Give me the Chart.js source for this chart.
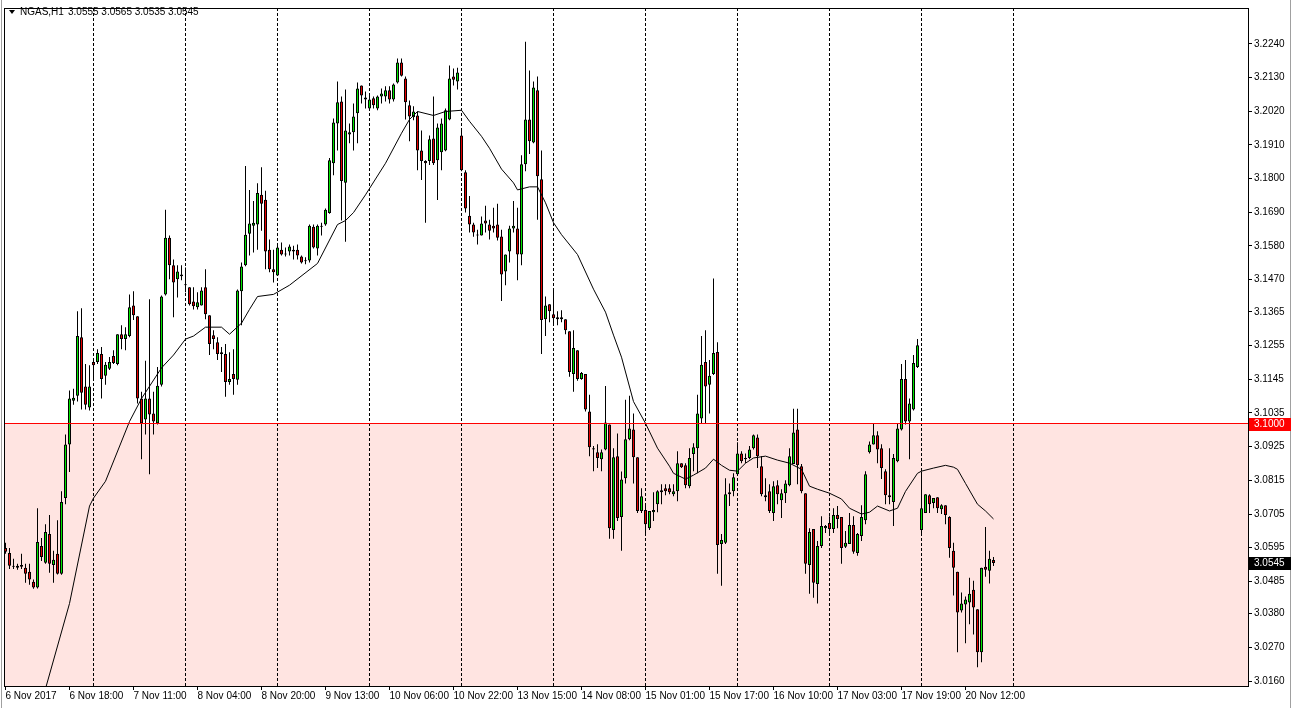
<!DOCTYPE html>
<html lang="en">
<head>
<meta charset="UTF-8">
<title>NGAS,H1</title>
<script src="https://cdn.jsdelivr.net/npm/chart.js"></script>
<style>
    html, body { margin: 0; padding: 0; background: #fff; }
    #wrap { width: 1292px; height: 708px; }
</style>
</head>
<body>
<div id="wrap"><canvas id="chart" width="1292" height="708"></canvas></div>

<script>
    // hourly NGAS bars, 6 Nov 2017 02:00 .. 20 Nov 2017
    const opens = [
        3.0594,3.0578,3.0533,3.0530,3.0539,3.0530,3.0517,3.0484,3.0465,3.0601,
        3.0546,3.0640,3.0539,3.0575,3.0510,3.0757,3.0932,3.1075,3.1091,3.1282,
        3.1121,3.1053,3.1201,3.1201,3.1227,3.1156,3.1179,3.1221,3.1195,3.1292,
        3.1276,3.1286,3.1386,3.1351,3.1082,3.1014,3.1082,3.1033,3.1001,3.1127,
        3.1422,3.1607,3.1517,3.1471,3.1487,3.1455,3.1445,3.1399,3.1380,3.1386,
        3.1445,3.1354,3.1289,3.1266,3.1233,3.1227,3.1136,3.1162,3.1143,3.1432,
        3.1517,3.1620,3.1646,3.1650,3.1747,3.1731,3.1568,3.1504,3.1484,3.1568,
        3.1555,3.1562,3.1568,3.1568,3.1546,3.1530,3.1533,3.1643,3.1572,3.1646,
        3.1650,3.1688,3.1850,3.1980,3.2052,3.1786,3.1944,3.1951,3.2013,3.2104,
        3.2065,3.2029,3.2062,3.2029,3.2068,3.2068,3.2088,3.2058,3.2114,3.2179,
        3.2127,3.2039,3.2000,3.2006,3.1892,3.1857,3.1857,3.1931,3.1860,3.1886,
        3.1892,3.1993,3.2133,3.2117,3.1941,3.1821,3.1679,3.1650,3.1617,3.1614,
        3.1663,3.1650,3.1646,3.1650,3.1611,3.1497,3.1562,3.1637,3.1637,3.1552,
        3.1847,3.1993,3.1918,3.2088,3.1798,3.1341,3.1390,3.1357,3.1341,3.1341,
        3.1341,3.1302,3.1162,3.1240,3.1146,3.1162,3.1040,3.0920,3.0907,3.0884,
        3.0916,3.0997,3.0653,3.0894,3.0695,3.0822,3.0949,3.0981,3.0890,3.0715,
        3.0718,3.0659,3.0711,3.0737,3.0776,3.0789,3.0789,3.0770,3.0779,3.0871,
        3.0864,3.0796,3.0901,3.0920,3.1017,3.1201,3.1127,3.1162,3.1234,3.0607,
        3.0611,3.0770,3.0779,3.0835,3.0903,3.0888,3.0888,3.0920,3.0955,3.0861,
        3.0766,3.0779,3.0708,3.0799,3.0750,3.0773,3.0799,3.0868,3.0981,3.0861,
        3.0773,3.0539,3.0656,3.0477,3.0601,3.0659,3.0676,3.0656,3.0702,3.0695,
        3.0598,3.0607,3.0669,3.0578,3.0633,3.0685,3.0907,3.0932,3.0962,3.0920,
        3.0845,3.0766,3.0744,3.0877,3.0981,3.1146,3.1007,3.1046,3.1185,3.0653,
        3.0708,3.0766,3.0741,3.0760,3.0721,3.0734,3.0695,3.0585,3.0517,3.0390,
        3.0410,3.0416,3.0458,3.0394,3.0254,3.0533,3.0520,3.0555
    ];
    const highs = [
        3.0611,3.0594,3.0559,3.0543,3.0575,3.0543,3.0543,3.0491,3.0724,3.0627,
        3.0672,3.0702,3.0585,3.0685,3.0779,3.0965,3.1108,3.1114,3.1367,3.1377,
        3.1195,3.1191,3.1208,3.1243,3.1250,3.1201,3.1218,3.1240,3.1292,3.1321,
        3.1315,3.1422,3.1432,3.1351,3.1104,3.1205,3.1406,3.1104,3.1185,3.1418,
        3.1698,3.1614,3.1536,3.1517,3.1517,3.1510,3.1445,3.1445,3.1429,3.1445,
        3.1504,3.1354,3.1305,3.1282,3.1250,3.1260,3.1233,3.1243,3.1438,3.1526,
        3.1841,3.1763,3.1727,3.1785,3.1837,3.1760,3.1601,3.1568,3.1581,3.1591,
        3.1575,3.1585,3.1581,3.1585,3.1549,3.1543,3.1650,3.1650,3.1650,3.1656,
        3.1702,3.1867,3.1996,3.2117,3.2068,3.2091,3.1980,3.2045,3.2114,3.2104,
        3.2084,3.2071,3.2068,3.2071,3.2094,3.2101,3.2101,3.2110,3.2192,3.2192,
        3.2133,3.2055,3.2036,3.2019,3.1957,3.1860,3.1941,3.2068,3.1980,3.1996,
        3.2029,3.2169,3.2159,3.2162,3.1960,3.1827,3.1743,3.1656,3.1633,3.1676,
        3.1711,3.1666,3.1705,3.1718,3.1633,3.1552,3.1646,3.1727,3.1705,3.1876,
        3.2247,3.2153,3.2117,3.2133,3.1892,3.1415,3.1390,3.1442,3.1367,3.1370,
        3.1341,3.1302,3.1305,3.1240,3.1169,3.1162,3.1094,3.0927,3.0933,3.0916,
        3.1123,3.0997,3.0920,3.0968,3.0844,3.1078,3.1091,3.1033,3.0890,3.0789,
        3.0737,3.0715,3.0776,3.0783,3.0802,3.0802,3.0802,3.0802,3.0910,3.0871,
        3.0871,3.0920,3.0936,3.1094,3.1286,3.1305,3.1208,3.1474,3.1266,3.0640,
        3.0822,3.0805,3.0838,3.0939,3.0910,3.0903,3.0927,3.0965,3.0965,3.0894,
        3.0822,3.0802,3.0812,3.0815,3.0786,3.0815,3.0920,3.1049,3.1049,3.0868,
        3.0773,3.0659,3.0656,3.0617,3.0698,3.0669,3.0698,3.0724,3.0731,3.0695,
        3.0650,3.0708,3.0698,3.0643,3.0734,3.0845,3.0942,3.1001,3.0975,3.0933,
        3.0851,3.0920,3.0901,3.1001,3.1195,3.1208,3.1082,3.1224,3.1276,3.0844,
        3.0770,3.0770,3.0757,3.0760,3.0737,3.0734,3.0698,3.0611,3.0517,3.0449,
        3.0436,3.0497,3.0487,3.0394,3.0530,3.0663,3.0585,3.0565
    ];
    const lows = [
        3.0575,3.0526,3.0526,3.0523,3.0526,3.0481,3.0474,3.0461,3.0462,3.0552,
        3.0543,3.0513,3.0481,3.0508,3.0507,3.0737,3.0842,3.1062,3.1072,3.1046,
        3.1046,3.1043,3.1143,3.1195,3.1082,3.1127,3.1175,3.1195,3.1191,3.1243,
        3.1240,3.1282,3.1338,3.1066,3.0884,3.0965,3.0835,3.0965,3.0997,3.1121,
        3.1418,3.1471,3.1347,3.1412,3.1468,3.1429,3.1386,3.1373,3.1373,3.1386,
        3.1341,3.1224,3.1243,3.1208,3.1169,3.1088,3.1127,3.1094,3.1127,3.1321,
        3.1514,3.1549,3.1559,3.1568,3.1630,3.1504,3.1494,3.1461,3.1484,3.1549,
        3.1546,3.1549,3.1536,3.1536,3.1523,3.1520,3.1526,3.1572,3.1549,3.1614,
        3.1646,3.1685,3.1811,3.1892,3.1663,3.1594,3.1915,3.1892,3.1915,3.2045,
        3.2029,3.2023,3.2029,3.2023,3.2045,3.2052,3.2045,3.2052,3.2110,3.2133,
        3.1993,3.1922,3.1990,3.1827,3.1795,3.1656,3.1844,3.1844,3.1730,3.1827,
        3.1889,3.1990,3.2104,3.2091,3.1824,3.1689,3.1624,3.1610,3.1585,3.1614,
        3.1624,3.1601,3.1624,3.1598,3.1400,3.1452,3.1526,3.1624,3.1468,3.1517,
        3.1824,3.1880,3.1915,3.1666,3.1227,3.1286,3.1331,3.1321,3.1321,3.1331,
        3.1292,3.1153,3.1104,3.1140,3.1143,3.1040,3.0894,3.0845,3.0855,3.0845,
        3.0913,3.0624,3.0624,3.0682,3.0585,3.0805,3.0946,3.0805,3.0708,3.0708,
        3.0640,3.0653,3.0682,3.0711,3.0737,3.0766,3.0770,3.0763,3.0747,3.0855,
        3.0789,3.0789,3.0845,3.0838,3.1001,3.1001,3.1033,3.1159,3.0510,3.0471,
        3.0607,3.0731,3.0763,3.0832,3.0871,3.0871,3.0884,3.0916,3.0855,3.0763,
        3.0747,3.0708,3.0682,3.0737,3.0692,3.0741,3.0796,3.0868,3.0802,3.0773,
        3.0510,3.0445,3.0432,3.0413,3.0594,3.0643,3.0640,3.0643,3.0659,3.0543,
        3.0594,3.0607,3.0575,3.0569,3.0617,3.0672,3.0903,3.0932,3.0871,3.0819,
        3.0737,3.0737,3.0666,3.0874,3.0978,3.0997,3.0884,3.1043,3.1182,3.0633,
        3.0708,3.0708,3.0724,3.0708,3.0705,3.0672,3.0562,3.0439,3.0254,3.0384,
        3.0283,3.0345,3.0312,3.0205,3.0221,3.0500,3.0478,3.0535
    ];
    const closes = [
        3.0582,3.0536,3.0536,3.0536,3.0533,3.0510,3.0491,3.0465,3.0614,3.0565,
        3.0646,3.0543,3.0556,3.0510,3.0744,3.0932,3.1082,3.1085,3.1286,3.1101,
        3.1062,3.1121,3.1191,3.1231,3.1146,3.1192,3.1201,3.1198,3.1292,3.1276,
        3.1292,3.1380,3.1354,3.1082,3.1001,3.1082,3.1030,3.1007,3.1124,3.1415,
        3.1607,3.1517,3.1461,3.1497,3.1481,3.1452,3.1390,3.1383,3.1396,3.1435,
        3.1357,3.1260,3.1276,3.1227,3.1227,3.1136,3.1146,3.1146,3.1435,3.1513,
        3.1617,3.1653,3.1656,3.1753,3.1718,3.1562,3.1504,3.1494,3.1575,3.1552,
        3.1552,3.1578,3.1562,3.1549,3.1526,3.1533,3.1646,3.1575,3.1646,3.1643,
        3.1698,3.1860,3.1983,3.2049,3.1792,3.1957,3.1951,3.2003,3.2094,3.2071,
        3.2058,3.2058,3.2039,3.2068,3.2078,3.2088,3.2058,3.2107,3.2179,3.2136,
        3.2049,3.2003,3.2019,3.1892,3.1857,3.1850,3.1928,3.1850,3.1967,3.1980,
        3.2023,3.2127,3.2123,3.2146,3.1827,3.1702,3.1650,3.1624,3.1614,3.1653,
        3.1653,3.1630,3.1637,3.1607,3.1487,3.1552,3.1637,3.1646,3.1552,3.1847,
        3.1993,3.1922,3.2097,3.1808,3.1338,3.1386,3.1367,3.1344,3.1347,3.1347,
        3.1305,3.1169,3.1247,3.1146,3.1165,3.1046,3.0923,3.0916,3.0888,3.0907,
        3.1004,3.0659,3.0890,3.0692,3.0818,3.0949,3.0984,3.0890,3.0715,3.0763,
        3.0672,3.0715,3.0718,3.0779,3.0783,3.0779,3.0776,3.0779,3.0871,3.0858,
        3.0799,3.0888,3.0923,3.1033,3.1192,3.1121,3.1156,3.1231,3.0604,3.0620,
        3.0770,3.0776,3.0825,3.0903,3.0877,3.0884,3.0916,3.0962,3.0894,3.0770,
        3.0760,3.0715,3.0796,3.0770,3.0773,3.0805,3.0894,3.0971,3.0864,3.0779,
        3.0543,3.0646,3.0481,3.0601,3.0666,3.0666,3.0656,3.0702,3.0689,3.0594,
        3.0611,3.0669,3.0582,3.0640,3.0695,3.0835,3.0932,3.0962,3.0916,3.0855,
        3.0766,3.0760,3.0888,3.0984,3.1146,3.1007,3.1066,3.1198,3.1256,3.0724,
        3.0770,3.0737,3.0757,3.0724,3.0734,3.0702,3.0594,3.0530,3.0384,3.0413,
        3.0426,3.0445,3.0400,3.0254,3.0530,3.0523,3.0559,3.0545
    ];

    // moving average line, read at these bar numbers
    const maBars = [10,16,21,22,25,31,34,39,42,45,47,50,54,56,59,61,63,67,71,78,
        83,85,87,90,95,99,101,103,107,110,114,116,119,121,124,127,128,131,133,135,
        137,139,143,147,150,152,154,157,160,163,166,167,170,172,175,177,179,181,183,185,
        187,190,193,196,199,201,203,206,209,211,214,216,218,221,223,225,228,229,232,235,
        237,238,240,243,245,247];
    const maValues = [3.0135,3.0413,3.0731,3.0757,3.0812,3.1007,3.1082,3.1182,3.1224,3.1276,
        3.1286,3.1315,3.1315,3.1292,3.1328,3.1373,3.1415,3.1422,3.1452,3.1523,
        3.1650,3.1663,3.1689,3.1747,3.1850,3.1948,3.1993,3.2019,3.2006,3.2019,
        3.2023,3.1987,3.1938,3.1899,3.1831,3.1786,3.1763,3.1773,3.1773,3.1721,
        3.1656,3.1617,3.1552,3.1439,3.1364,3.1289,3.1217,3.1072,3.1001,3.0920,
        3.0861,3.0838,3.0819,3.0832,3.0855,3.0884,3.0864,3.0848,3.0845,3.0871,
        3.0888,3.0894,3.0881,3.0871,3.0851,3.0796,3.0786,3.0773,3.0754,3.0724,
        3.0705,3.0711,3.0731,3.0715,3.0724,3.0779,3.0838,3.0845,3.0855,3.0864,
        3.0858,3.0851,3.0805,3.0737,3.0715,3.0689];

    const labelBars = [0,16,32,48,64,80,96,112,128,144,160,176,192,208,224,240];
    const timeLabels = ["6 Nov 2017","6 Nov 18:00","7 Nov 11:00","8 Nov 04:00","8 Nov 20:00",
        "9 Nov 13:00","10 Nov 06:00","10 Nov 22:00","13 Nov 15:00","14 Nov 08:00",
        "15 Nov 01:00","15 Nov 17:00","16 Nov 10:00","17 Nov 03:00","17 Nov 19:00","20 Nov 12:00"];
    const daySeparators = [22,45,68,91,114,137,160,183,206,229,252];

    const priceTicks = [3.2240,3.2130,3.2020,3.1910,3.1800,3.1690,3.1580,3.1470,3.1365,3.1255,
        3.1145,3.1035,3.0925,3.0815,3.0705,3.0595,3.0485,3.0380,3.0270,3.0160];
    const levelPrice = 3.1000;
    const lastPrice = 3.0545;
    const headerSymbol = "NGAS,H1";
    const headerOHLC = "3.0555 3.0565 3.0535 3.0545";

    const BULL = '#00e600';
    const BEAR = '#e60000';
    const FONT = 'Liberation Sans, Arial, sans-serif';

    const bars = opens.map((o, i) => i);

    const mtPlugin = {
        id: 'mt',
        beforeDatasetsDraw(chart) {
            const {ctx, chartArea: a, scales: {x, y}} = chart;
            ctx.save();
            // shaded zone under the level
            const ly = Math.round(y.getPixelForValue(levelPrice) - 0.5) + 0.5;
            ctx.fillStyle = '#ffe4e1';
            ctx.fillRect(a.left, ly, a.right - a.left, a.bottom - ly);
            // day separators
            ctx.strokeStyle = '#000';
            ctx.lineWidth = 1;
            ctx.setLineDash([3, 2]);
            daySeparators.forEach(b => {
                const px = Math.round(x.getPixelForValue(b) - 0.5) + 0.5;
                if (px > a.right) return;
                ctx.beginPath();
                ctx.moveTo(px, a.top);
                ctx.lineTo(px, a.bottom);
                ctx.stroke();
            });
            ctx.restore();
        },
        afterDraw(chart) {
            const {ctx, chartArea: a, scales: {y}, width, height} = chart;
            ctx.save();
            const ly = Math.round(y.getPixelForValue(levelPrice) - 0.5) + 0.5;
            ctx.strokeStyle = '#ff0000';
            ctx.lineWidth = 1;
            ctx.beginPath();
            ctx.moveTo(a.left, ly);
            ctx.lineTo(a.right, ly);
            ctx.stroke();

            // frame
            ctx.strokeStyle = '#000';
            ctx.strokeRect(a.left + 0.5, a.top + 0.5, a.right - a.left, a.bottom - a.top);

            // window edges
            ctx.strokeStyle = '#a0a0a0';
            ctx.beginPath();
            ctx.moveTo(1.5, 0); ctx.lineTo(1.5, height);
            ctx.moveTo(width - 1.5, 0); ctx.lineTo(width - 1.5, height);
            ctx.stroke();

            // price boxes on the axis
            ctx.font = '10px ' + FONT;
            ctx.textBaseline = 'middle';
            ctx.textAlign = 'left';
            const box = (price, bg) => {
                const py = Math.round(y.getPixelForValue(price));
                ctx.fillStyle = bg;
                ctx.fillRect(a.right + 1, py - 6, 42, 13);
                ctx.fillStyle = '#fff';
                ctx.fillText(price.toFixed(4), a.right + 6, py + 0.5);
            };
            box(levelPrice, '#ff0000');
            box(lastPrice, '#000000');

            // header
            ctx.fillStyle = '#000';
            ctx.beginPath();
            ctx.moveTo(9, 10); ctx.lineTo(15, 10); ctx.lineTo(12, 14); ctx.closePath();
            ctx.fill();
            ctx.fillText(headerSymbol, 20, 12.5);
            ctx.fillText(headerOHLC, 68, 12.5);
            ctx.restore();
        }
    };

    new Chart(document.getElementById('chart'), {
        type: 'bar',
        data: {
            datasets: [{
                type: 'line',
                order: 0,
                data: maBars.map((b, k) => ({x: b, y: maValues[k]})),
                borderColor: '#000',
                borderWidth: 1,
                pointRadius: 0,
                tension: 0,
                fill: false
            }, {
                order: 1,
                data: bars.map(i => ({x: i, y: [opens[i], closes[i]]})),
                backgroundColor: c => closes[c.dataIndex] >= opens[c.dataIndex] ? BULL : BEAR,
                borderColor: '#000',
                borderWidth: 1,
                borderSkipped: false,
                inflateAmount: 0,
                minBarLength: 1,
                barThickness: 3,
                grouped: false
            }, {
                order: 2,
                data: bars.map(i => ({x: i, y: [lows[i], highs[i]]})),
                backgroundColor: '#000',
                borderWidth: 0,
                inflateAmount: 0,
                barThickness: 1,
                grouped: false
            }]
        },
        options: {
            responsive: false,
            devicePixelRatio: 1,
            animation: false,
            layout: { padding: { left: 4, top: 4, right: 0, bottom: 0 } },
            plugins: { legend: { display: false }, tooltip: { enabled: false } },
            scales: {
                x: {
                    type: 'linear',
                    offset: false,
                    min: -0.375,
                    max: 310.625,
                    afterBuildTicks: s => { s.ticks = labelBars.map(v => ({value: v})); },
                    afterFit: s => { s.height = 22; },
                    ticks: {
                        autoSkip: false,
                        maxRotation: 0,
                        align: 'start',
                        padding: 0,
                        color: '#000',
                        font: { family: FONT, size: 10 },
                        callback: v => timeLabels[labelBars.indexOf(v)]
                    },
                    grid: { offset: false, drawOnChartArea: false, color: '#000', tickLength: 4 },
                    border: { display: false }
                },
                y: {
                    type: 'linear',
                    position: 'right',
                    beginAtZero: false,
                    min: 3.01437,
                    max: 3.23568,
                    afterBuildTicks: s => { s.ticks = priceTicks.map(v => ({value: v})); },
                    afterFit: s => { s.width = 44; },
                    ticks: {
                        autoSkip: false,
                        padding: 2,
                        color: '#000',
                        font: { family: FONT, size: 10 },
                        callback: v => v.toFixed(4)
                    },
                    grid: { drawOnChartArea: false, color: '#000', tickLength: 4 },
                    border: { display: false }
                }
            }
        },
        plugins: [mtPlugin]
    });
</script>
</body>
</html>
